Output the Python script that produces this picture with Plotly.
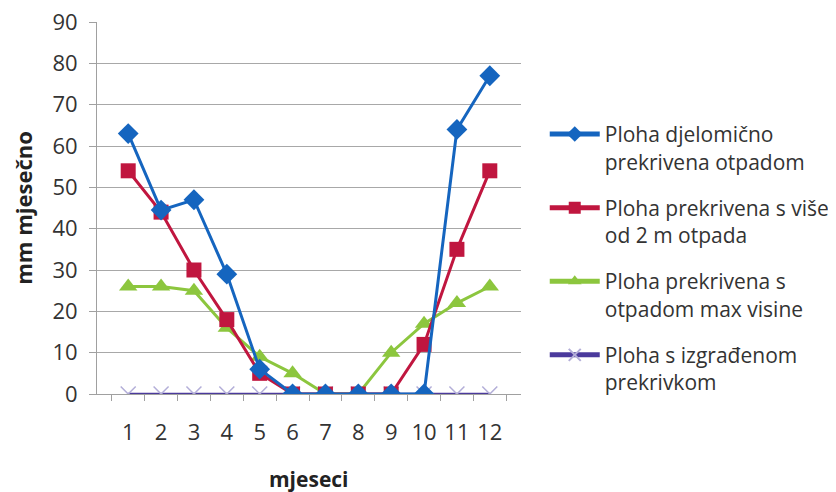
import plotly.graph_objects as go

months = ["1", "2", "3", "4", "5", "6", "7", "8", "9", "10", "11", "12"]
s_djelomicno = [63, 44.5, 47, 29, 6, 0, 0, 0, 0, 0, 64, 77]
s_vise_2m = [54, 44, 30, 18, 5, 0, 0, 0, 0, 12, 35, 54]
s_max_visine = [26, 26, 25, 16, 9, 5, 0, 0, 10, 17, 22, 26]
s_izgradjena = [0, 0, 0, 0, 0, 0, 0, 0, 0, 0, 0, 0]

names = [
    "Ploha djelomično<br>prekrivena otpadom",
    "Ploha prekrivena s više<br>od 2 m otpada",
    "Ploha prekrivena s<br>otpadom max visine",
    "Ploha s izgrađenom<br>prekrivkom",
]
y_ticks = [0, 10, 20, 30, 40, 50, 60, 70, 80, 90]
x_title = "mjeseci"
y_title = "mm mjesečno"

FONT = "Open Sans"
FS = 21
TFS = 22
fig = go.Figure()

fig.add_trace(go.Scatter(x=months, y=s_izgradjena, name=names[3], mode="lines+markers",
                         line=dict(color="#4b3a9c", width=2.5),
                         marker=dict(symbol="x-thin", size=15, line=dict(color="#b3aed8", width=1.5)),
                         legendrank=4, legendgroup="d"))
fig.add_trace(go.Scatter(x=months, y=s_max_visine, name=names[2], mode="lines+markers",
                         line=dict(color="#8cc63e", width=3),
                         marker=dict(symbol="triangle-up", size=16, color="#8cc63e"),
                         legendrank=3, legendgroup="c"))
fig.add_trace(go.Scatter(x=months, y=s_vise_2m, name=names[1], mode="lines+markers",
                         line=dict(color="#c0163f", width=3),
                         marker=dict(symbol="square", size=15, color="#c0163f"),
                         legendrank=2, legendgroup="b"))
fig.add_trace(go.Scatter(x=months, y=s_djelomicno, name=names[0], mode="lines+markers",
                         line=dict(color="#1565bf", width=3),
                         marker=dict(symbol="diamond", size=16, color="#1565bf"),
                         legendrank=1, legendgroup="a"))

# page body has an 8px default margin, so the figure is sized to fit the window
fig.update_layout(
    width=828, height=484,
    margin=dict(l=89, r=315, t=14, b=98, autoexpand=False),
    paper_bgcolor="white", plot_bgcolor="white",
    font=dict(family=FONT, color="#333333", size=FS),
    showlegend=True,
    legend=dict(x=1.056, y=0.753, xanchor="left", yanchor="top", valign="top",
                font=dict(family=FONT, size=FS, color="#333333"),
                tracegroupgap=16, itemwidth=50, traceorder="grouped",
                itemsizing="constant"),
    xaxis=dict(type="category", showgrid=False, showline=True, linecolor="#a0a0a0", linewidth=1,
               ticks="outside", ticklen=6, tickcolor="#a0a0a0", tickson="boundaries",
               ticklabelstandoff=19, tickangle=0,
               tickfont=dict(size=TFS, color="#333333")),
    yaxis=dict(range=[0, 90], tickvals=y_ticks, showgrid=True, gridcolor="#a8a8a8", gridwidth=1,
               showline=True, linecolor="#a0a0a0", ticks="outside", ticklen=7, tickcolor="#a0a0a0",
               ticklabelstandoff=7, ticklabeloverflow="allow",
               zeroline=False, tickfont=dict(size=TFS, color="#333333"),
               title=dict(text="<b>" + y_title + "</b>", font=dict(size=FS + 1, color="#222222"), standoff=30)),
    annotations=[dict(text="<b>" + x_title + "</b>", xref="paper", yref="paper", x=0.5, y=-0.228,
                      xanchor="center", yanchor="middle", showarrow=False,
                      font=dict(size=FS, color="#222222", family=FONT))],
)

fig.write_html("out.html", config={"displayModeBar": False})
